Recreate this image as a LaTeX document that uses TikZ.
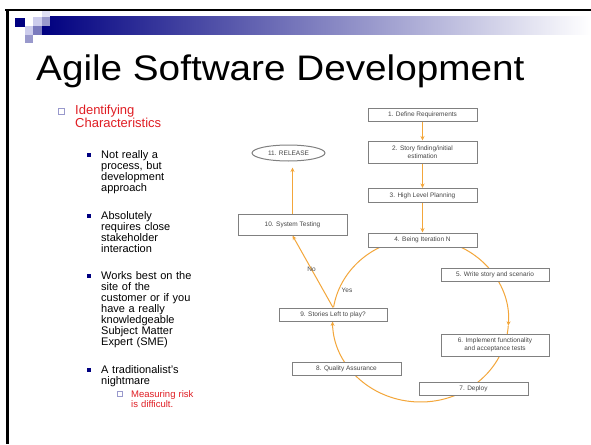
\documentclass[tikz,border=0pt]{standalone}
\usepackage{fontspec}
\setmainfont{Liberation Sans}
\usetikzlibrary{arrows.meta,shapes.geometric,calc}
\definecolor{navy}{RGB}{0,0,128}
\definecolor{lav}{RGB}{153,153,204}
\definecolor{lavlight}{RGB}{204,204,236}
\definecolor{slred}{RGB}{224,30,36}
\definecolor{flowor}{RGB}{243,166,58}
\definecolor{boxgray}{RGB}{128,128,128}
\definecolor{boxtext}{RGB}{70,70,70}

\begin{document}
\begin{tikzpicture}[x=1pt,y=-1pt,
        box/.style={draw=boxgray,fill=white,line width=1pt,minimum width=109pt,minimum height=13pt,
                inner sep=1pt,align=center,text=boxtext,font=\fontsize{6.5}{7.5}\selectfont},
        flow/.style={draw=flowor,line width=1pt,-{Stealth[length=4.5pt,width=4pt]}},
        arcflow/.style={draw=flowor,line width=1pt},
        lbl/.style={text=boxtext,font=\fontsize{6.5}{7.5}\selectfont,inner sep=0pt},
        body/.style={anchor=base west,inner sep=0pt,text width=110pt,align=left,
                font=\fontsize{11}{11}\selectfont},
        bulletsq/.style={fill=navy},
        hollowsq/.style={draw=lav,line width=0.7pt}]
        \useasboundingbox[fill=white] (0,0) rectangle (591,444);
        \shade[left color=navy,right color=white] (42,17) rectangle (591,35);
        \fill[navy] (15,18) rectangle (25,27);
        \fill[lavlight] (33,17) rectangle (42,26);
        \fill[lavlight!60] (42,10) rectangle (50,17);
        \fill[lav] (42,17) rectangle (50,26);
        \fill[lavlight] (25,26) rectangle (33,35);
        \fill[lav!80!navy] (33,26) rectangle (42,35);
        \fill[lav] (25,35) rectangle (33,43);
        \draw[line width=2.5pt] (5,10) -- (591,10);
        \draw[line width=2.5pt] (7.5,10) -- (7.5,444);

        \node[anchor=base west,inner sep=0pt,font=\fontsize{35.5}{36}\selectfont] (title) at (36,80.5) {\scalebox{1.09}[1]{Agile Software Development}};

        \draw[hollowsq] (58,108) rectangle (64,114);
        \node[body,text=slred,font=\fontsize{13}{13}\selectfont] (ident) at (75,114) {Identifying\\Characteristics};
        \foreach \b in {158,219,279,373}
                \fill[bulletsq] (87,\b-5) rectangle (91,\b-1);
        \node[body] (notreally) at (101,158) {Not really a\\process, but\\development\\approach};
        \node[body] (absolutely) at (101,219) {Absolutely\\requires close\\stakeholder\\interaction};
        \node[body] (worksbest) at (101,279) {Works best on the\\site of the\\customer or if you\\have a really\\knowledgeable\\Subject Matter\\Expert (SME)};
        \node[body] (nightmare) at (101,373) {A traditionalist's\\nightmare};
        \draw[hollowsq] (117,391) rectangle (122,396);
        \node[body,text=slred,font=\fontsize{9.5}{10}\selectfont] (risk) at (131,397) {Measuring risk\\is difficult.};

        \coordinate (cyc) at (420.5,320);
        \draw[arcflow] (cyc) ++(171:88pt and 82pt) arc[start angle=171,end angle=100,x radius=88pt,y radius=82pt];
        \draw[flow] (cyc) ++(70:88pt and 82pt) arc[start angle=70,end angle=-4,x radius=88pt,y radius=82pt];
        \draw[flow] (cyc) ++(-4:88pt and 82pt) arc[start angle=-4,end angle=-179,x radius=88pt,y radius=82pt];

        \node[box] (define) at (422.5,114.5) {1. Define Requirements};
        \node[box,minimum height=22pt] (story) at (422.5,152) {2. Story finding/initial\\estimation};
        \node[box,minimum height=14pt] (plan) at (422.5,195.5) {3. High Level Planning};
        \node[box,minimum height=14pt] (iter) at (422.5,240) {4. Being Iteration N};
        \node[box,minimum width=108pt] (write) at (495,274.5) {5. Write story and scenario};
        \node[box,minimum width=108pt,minimum height=22pt] (impl) at (495,345) {6. Implement functionality\\and acceptance tests};
        \node[box] (deploy) at (473.5,388.5) {7. Deploy};
        \node[box] (qa) at (346.5,368.5) {8. Quality Assurance};
        \node[box,minimum width=108pt] (left) at (333,314.5) {9. Stories Left to play?};
        \node[box,minimum height=21pt] (systest) at (292.5,224.5) {10. System Testing};
        \node[ellipse,draw=boxgray,line width=1pt,minimum width=73pt,minimum height=16pt,inner sep=0pt,
                text=boxtext,font=\fontsize{6.5}{7.5}\selectfont] (release) at (288.5,153) {11. RELEASE};

        \draw[flow] (define) -- (story);
        \draw[flow] (story) -- (plan);
        \draw[flow] (plan) -- (iter);
        \draw[flow] (left.north) -- node[lbl,pos=0.53] (no) {No} (systest.south);
        \draw[flow,shorten >=6pt] (systest.north) -- (systest.north |- release.south);
        \node[lbl] (yes) at (347,290) {Yes};
\end{tikzpicture}
\end{document}
